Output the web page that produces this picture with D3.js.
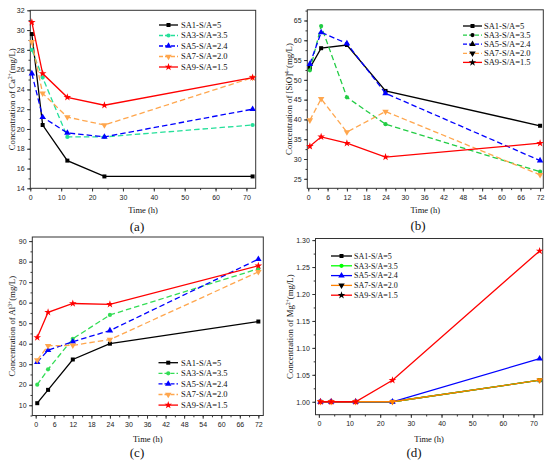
<!DOCTYPE html>
<html>
<head>
<meta charset="utf-8">
<script src="https://cdn.jsdelivr.net/npm/d3@7"></script>
<style>
  body { margin: 0; background: #fff; }
  svg { display: block; }
  .tick text { font-family: "Liberation Sans", Arial, sans-serif; font-size: 7px; fill: #222; }
  .tick line, .domain { stroke: #333; }
  .serif { font-family: "Liberation Serif", "Times New Roman", serif; fill: #111; }
</style>
</head>
<body>
<svg width="550" height="463"></svg>
<script>
// Data
const times = [0.5, 4, 12, 24, 72];
const seriesNames = ["SA1-S/A=5", "SA3-S/A=3.5", "SA5-S/A=2.4", "SA7-S/A=2.0", "SA9-S/A=1.5"];

// (a) Ca2+
const caValues = [
  [29.6, 20.4, 16.8, 15.2, 15.2],
  [28.0, 25.2, 19.2, 19.2, 20.4],
  [25.6, 21.2, 19.6, 19.2, 22.0],
  [28.8, 23.6, 21.2, 20.4, 25.2],
  [30.8, 25.6, 23.2, 22.4, 25.2]
];
// (b) [SiO]4-
const sioValues = [
  [53.0, 58.0, 58.8, 47.2, 38.4],
  [52.4, 63.6, 45.6, 38.8, 26.8],
  [54.0, 62.0, 59.2, 46.6, 29.6],
  [39.8, 45.2, 36.8, 42.0, 26.0],
  [33.2, 35.6, 34.0, 30.5, 34.0]
];
// (c) Al3+
const alValues = [
  [11.0, 17.5, 32.3, 40.0, 50.8],
  [20.0, 27.5, 42.4, 54.0, 76.5],
  [31.0, 36.8, 41.0, 46.4, 81.2],
  [32.0, 39.0, 39.2, 42.0, 75.0],
  [43.0, 55.3, 59.6, 59.2, 78.0]
];
// (d) Mg2+
const mgValues = [
  [1.00, 1.00, 1.00, 1.00, 1.04],
  [1.00, 1.00, 1.00, 1.00, 1.04],
  [1.00, 1.00, 1.00, 1.00, 1.08],
  [1.00, 1.00, 1.00, 1.00, 1.04],
  [1.00, 1.00, 1.00, 1.04, 1.28]
];

// Tick labels
const xTicksTens = [0, 10, 20, 30, 40, 50, 60, 70];
const xTicksSixes = [0, 6, 12, 18, 24, 30, 36, 42, 48, 54, 60, 66, 72];
const caTicks = [14, 16, 18, 20, 22, 24, 26, 28, 30, 32];
const sioTicks = [25, 30, 35, 40, 45, 50, 55, 60, 65];
const alTicks = [10, 20, 30, 40, 50, 60, 70, 80, 90];
const mgTicks = [1.00, 1.05, 1.10, 1.15, 1.20, 1.25, 1.30];

const svg = d3.select("svg");

const symbols = [d3.symbolSquare, d3.symbolCircle, d3.symbolTriangle, d3.symbolTriangle, d3.symbolStar];
const symbolSizes = [16, 14, 18, 18, 18];
const symbolRotate = [0, 0, 0, 180, 0];

// Panel layouts
const panels = [
  {
    values: caValues, left: 30.3, right: 255.7, top: 10.3, bottom: 188.3,
    xDomain: [0, 73], yDomain: [14, 32],
    xTicks: xTicksTens, xMinorStep: 5, yTicks: caTicks, yMinorStep: 1, yFormat: d3.format("d"),
    colors: ["#000", "#25e09a", "#0000ff", "#ffa64d", "#ff0000"],
    dashed: [false, true, true, true, false],
    legend: { x1: 159, x2: 178, tx: 181, y0: 25, dy: 10.5, size: 8.5, markerColors: null },
    yLabel: ["Concentration of Ca", "2+", "(mg/L)"], yLabelX: 12,
    timeY: 210.5, tag: "(a)", tagX: 137, tagY: 226
  },
  {
    values: sioValues, left: 307.3, right: 543.3, top: 9.8, bottom: 188.3,
    xDomain: [-0.3, 73], yDomain: [22.6, 67.7],
    xTicks: xTicksSixes, xMinorStep: 3, yTicks: sioTicks, yMinorStep: 2.5, yFormat: d3.format("d"),
    colors: ["#000", "#22cc44", "#0000ff", "#ffa64d", "#ff0000"],
    dashed: [false, true, true, true, false],
    legend: { x1: 463, x2: 482, tx: 484, y0: 26, dy: 9.1, size: 8.5, markerColors: ["#000", "#000", "#000", "#000", "#000"] },
    yLabel: ["Concentration of [SiO]", "4\u2212", "(mg/L)"], yLabelX: 288.5,
    timeY: 210.5, tag: "(b)", tagX: 418, tagY: 225
  },
  {
    values: alValues, left: 32.3, right: 263.3, top: 237, bottom: 415.5,
    xDomain: [-1.1, 73.6], yDomain: [5, 92],
    xTicks: xTicksSixes, xMinorStep: 3, yTicks: alTicks, yMinorStep: 5, yFormat: d3.format("d"),
    colors: ["#000", "#33dd55", "#0000ff", "#ffa64d", "#ff0000"],
    dashed: [false, true, true, true, false],
    legend: { x1: 158.5, x2: 178, tx: 181, y0: 362.7, dy: 10.6, size: 8.5, markerColors: null },
    yLabel: ["Concentration of Al", "3+", "(mg/L)"], yLabelX: 12,
    timeY: 439, tag: "(c)", tagX: 137, tagY: 452
  },
  {
    values: mgValues, left: 315.5, right: 542.7, top: 238.5, bottom: 414.7,
    xDomain: [-1.1, 73], yDomain: [0.976, 1.303],
    xTicks: xTicksTens, xMinorStep: 5, yTicks: mgTicks, yMinorStep: 0.025, yFormat: d3.format(".2f"),
    colors: ["#000", "#00ff00", "#0000ff", "#ff8000", "#ff0000"],
    dashed: [false, false, false, false, false],
    legend: { x1: 331, x2: 352, tx: 354, y0: 256, dy: 9.8, size: 8, markerColors: ["#000", "#00ff00", "#0000ff", "#000", "#000"] },
    yLabel: ["Concentration of Mg", "2+", "(mg/L)"], yLabelX: 290,
    timeY: 439, tag: "(d)", tagX: 414, tagY: 452
  }
];

function minorTicks(domain, step) {
  const start = Math.ceil(domain[0] / step);
  const end = Math.floor(domain[1] / step);
  return d3.range(start, end + 1).map(k => +(k * step).toFixed(4));
}

function symbolPath(i) {
  return d3.symbol().type(symbols[i]).size(symbolSizes[i])();
}

function drawPanel(p) {
  const g = svg.append("g");
  const x = d3.scaleLinear().domain(p.xDomain).range([p.left, p.right]);
  const y = d3.scaleLinear().domain(p.yDomain).range([p.bottom, p.top]);

  // Minor ticks
  g.append("g")
    .attr("transform", `translate(0,${p.bottom})`)
    .call(d3.axisBottom(x).tickValues(minorTicks(p.xDomain, p.xMinorStep)).tickSize(1.8).tickFormat(""))
    .call(a => a.select(".domain").remove());
  g.append("g")
    .attr("transform", `translate(${p.left},0)`)
    .call(d3.axisLeft(y).tickValues(minorTicks(p.yDomain, p.yMinorStep)).tickSize(1.8).tickFormat(""))
    .call(a => a.select(".domain").remove());

  // Major ticks
  g.append("g")
    .attr("transform", `translate(0,${p.bottom})`)
    .call(d3.axisBottom(x).tickValues(p.xTicks).tickSize(3.2).tickPadding(3.5))
    .call(a => a.select(".domain").remove());
  g.append("g")
    .attr("transform", `translate(${p.left},0)`)
    .call(d3.axisLeft(y).tickValues(p.yTicks).tickSize(3.2).tickPadding(2.5).tickFormat(p.yFormat))
    .call(a => a.select(".domain").remove());

  // Frame
  g.append("rect")
    .attr("x", p.left).attr("y", p.top)
    .attr("width", p.right - p.left).attr("height", p.bottom - p.top)
    .attr("fill", "none").attr("stroke", "#333").attr("stroke-width", 1);

  const line = d3.line().x(d => x(d[0])).y(d => y(d[1]));

  p.values.forEach((vals, i) => {
    const pts = times.map((t, k) => [t, vals[k]]);
    g.append("path")
      .attr("d", line(pts))
      .attr("fill", "none")
      .attr("stroke", p.colors[i])
      .attr("stroke-width", 1.3)
      .attr("stroke-dasharray", p.dashed[i] ? "5.5,3" : null);
    g.selectAll(null)
      .data(pts)
      .enter()
      .append("path")
      .attr("d", symbolPath(i))
      .attr("transform", d => `translate(${x(d[0])},${y(d[1])}) rotate(${symbolRotate[i]})`)
      .attr("fill", p.colors[i]);
  });

  // Legend
  const L = p.legend;
  seriesNames.forEach((name, i) => {
    const ly = L.y0 + i * L.dy;
    g.append("line")
      .attr("x1", L.x1).attr("x2", L.x2).attr("y1", ly).attr("y2", ly)
      .attr("stroke", p.colors[i]).attr("stroke-width", 1.3)
      .attr("stroke-dasharray", p.dashed[i] ? "4,2" : null);
    g.append("path")
      .attr("d", symbolPath(i))
      .attr("transform", `translate(${(L.x1 + L.x2) / 2},${ly}) rotate(${symbolRotate[i]})`)
      .attr("fill", L.markerColors ? L.markerColors[i] : p.colors[i]);
    g.append("text")
      .attr("class", "serif")
      .attr("x", L.tx).attr("y", ly)
      .attr("dy", "0.35em")
      .style("font-size", L.size + "px")
      .text(name);
  });

  // Y axis title with superscript
  const cy = (p.top + p.bottom) / 2;
  const yt = g.append("text")
    .attr("class", "serif")
    .attr("transform", `translate(${p.yLabelX},${cy}) rotate(-90)`)
    .attr("text-anchor", "middle")
    .attr("dy", "0.35em")
    .style("font-size", "8.8px");
  yt.append("tspan").text(p.yLabel[0]);
  yt.append("tspan").attr("dy", -3).style("font-size", "5.5px").text(p.yLabel[1]);
  yt.append("tspan").attr("dy", 3).text(p.yLabel[2]);

  // X axis title
  g.append("text")
    .attr("class", "serif")
    .attr("x", (p.left + p.right) / 2).attr("y", p.timeY)
    .attr("dy", "0.35em")
    .attr("text-anchor", "middle")
    .style("font-size", "8.5px")
    .text("Time (h)");

  // Panel tag
  g.append("text")
    .attr("class", "serif")
    .attr("x", p.tagX).attr("y", p.tagY)
    .attr("dy", "0.35em")
    .attr("text-anchor", "middle")
    .style("font-size", "13px")
    .text(p.tag);
}

panels.forEach(drawPanel);
</script>
</body>
</html>
